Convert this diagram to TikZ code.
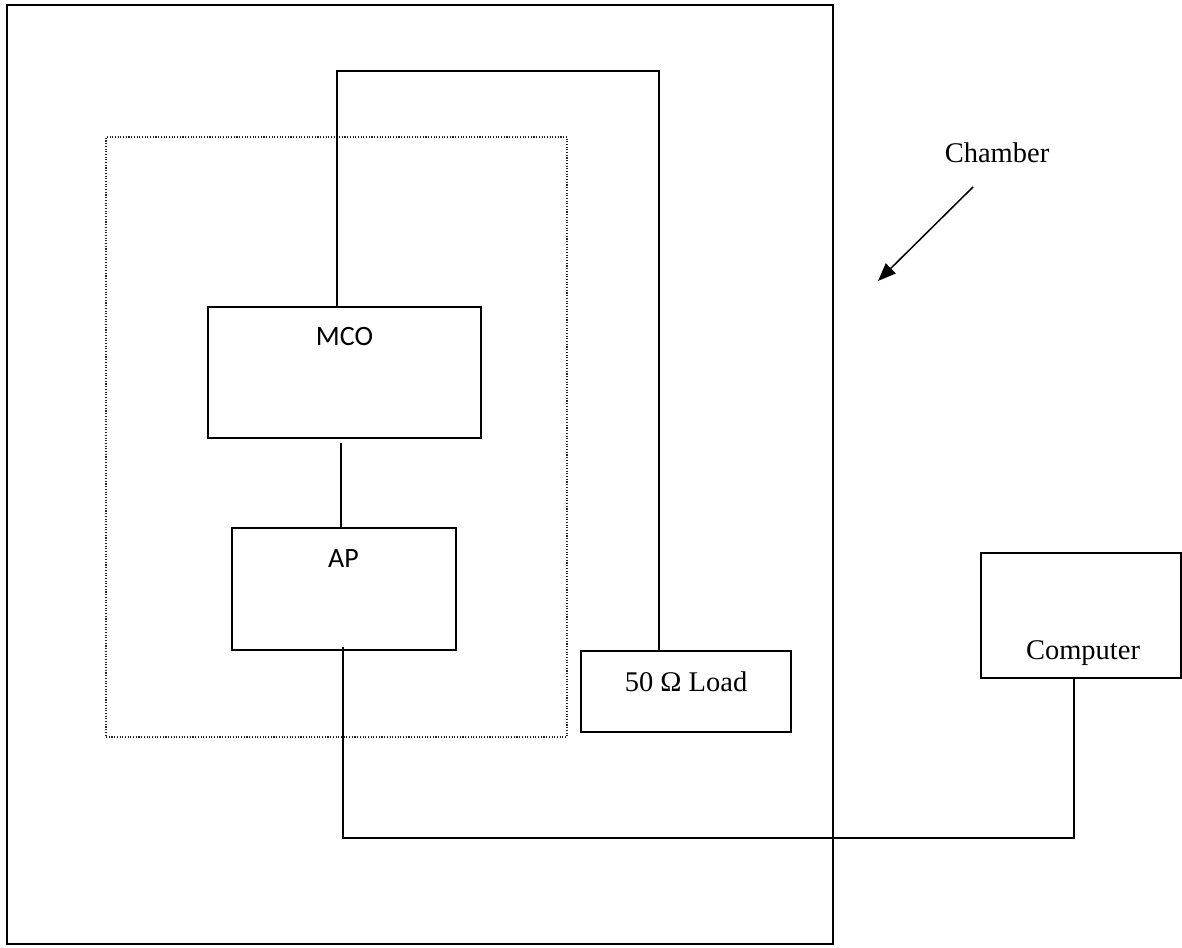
\documentclass[tikz,border=0pt]{standalone}
\usepackage{fontspec}
\setmainfont{Liberation Serif}
\newfontfamily\calib{Carlito}
\usetikzlibrary{arrows.meta}
\begin{document}
\begin{tikzpicture}[x=1pt,y=-1pt,
  box/.style={draw,line width=1.6pt,inner sep=0pt,outer sep=0pt},
  dotbox/.style={draw=black!85,line width=1.2pt,dash pattern=on 1.1pt off 1.6pt,inner sep=0pt,outer sep=0pt},
  wire/.style={line width=1.6pt},
  sanslbl/.style={anchor=base,inner sep=0pt,font=\calib\fontsize{28}{34}\selectfont},
  seriflbl/.style={anchor=base,inner sep=0pt,font=\fontsize{28.5}{34}\selectfont}]
\useasboundingbox (0,0) rectangle (1182,947);
\fill[white] (0,0) rectangle (1182,947);
% boxes
\node[box,minimum width=826pt,minimum height=939pt] (chamber) at (420,474.5) {};
\node[dotbox,minimum width=461pt,minimum height=600pt] (group) at (336.5,437) {};
\node[box,minimum width=273pt,minimum height=131pt] (mco) at (344.5,372.5) {};
\node[box,minimum width=224pt,minimum height=122pt] (ap) at (344,589) {};
\node[box,minimum width=210pt,minimum height=81pt] (load) at (686,691.5) {};
\node[box,minimum width=200pt,minimum height=125pt] (computer) at (1081,615.5) {};
% labels
\node[sanslbl] (mcot) at (344.5,345) {MCO};
\node[sanslbl] (apt) at (343.5,567) {AP};
\node[seriflbl] (loadt) at (686,691) {50 Ω Load};
\node[seriflbl] (compt) at (1083,659) {Computer};
\node[seriflbl] (chamt) at (997,162) {Chamber};
% wires
\coordinate (t1) at (337,71);
\coordinate (t2) at (659,71);
\draw[wire] (mco.north -| t1) -- (t1) -- (t2) -- (t2 |- load.north);
\coordinate (m1) at (341,443);
\draw[wire] (m1) -- (m1 |- ap.north);
\coordinate (b1) at (343,838);
\coordinate (b2) at (1074,838);
\draw[wire] ([yshift=3pt]ap.south -| b1) -- (b1) -- (b2) -- (b2 |- computer.south);
% arrow
\coordinate (a1) at (973,187);
\coordinate (a2) at (878,281);
\draw[line width=1.5pt,-{Triangle[length=18pt,width=14pt]}] (a1) -- (a2);
\end{tikzpicture}
\end{document}
